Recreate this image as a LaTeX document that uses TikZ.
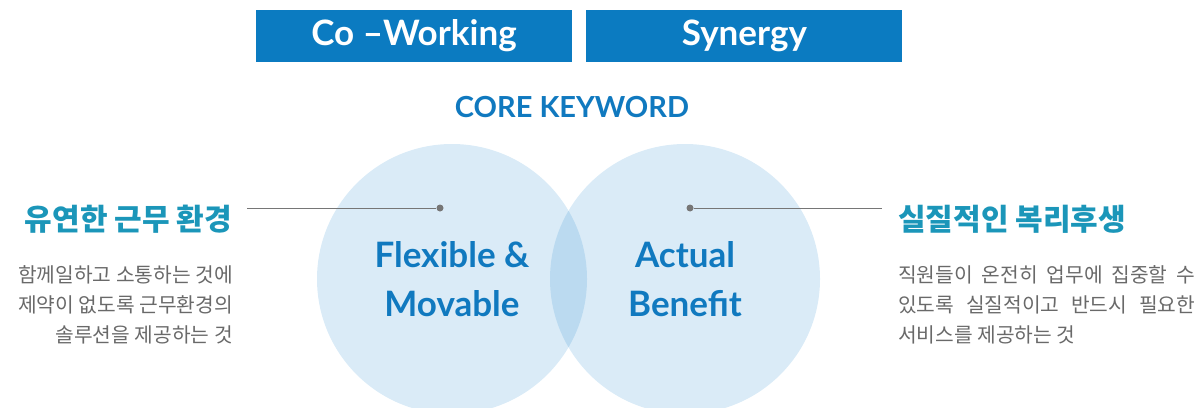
\documentclass[tikz,border=0pt]{standalone}
\usepackage{fontspec}
\setmainfont{Lato}
\newfontfamily\kr{Noto Sans CJK KR}
\usetikzlibrary{positioning}
\definecolor{boxblue}{RGB}{11,123,193}
\definecolor{keyblue}{RGB}{16,121,191}
\definecolor{headteal}{RGB}{27,150,185}
\definecolor{vennblue}{RGB}{24,130,205}
\definecolor{bodygray}{RGB}{105,105,105}
\definecolor{linegray}{RGB}{118,118,118}

\begin{document}
\begin{tikzpicture}[
        x = 1pt,
        y = -1pt,
        box/.style = {
            fill=boxblue,
            text=white,
            minimum width = 316pt,
            minimum height = 52pt,
            inner sep = 0pt,
            font=\bfseries\fontsize{35}{35}\selectfont
        },
        venn/.style = {
            circle,
            fill=vennblue,
            fill opacity=0.16,
            minimum size = 270pt,
            inner sep = 0pt
        },
        key/.style = {
            text=keyblue,
            align=center,
            font=\bfseries\fontsize{35}{49}\selectfont
        },
        head/.style = {
            text=headteal,
            inner sep = 0pt,
            font=\kr\bfseries\fontsize{30}{30}\selectfont
        },
        body/.style = {
            text=bodygray,
            inner sep = 0pt,
            font=\kr\fontsize{20.3}{30}\selectfont
        },
        dot/.style = {
            circle,
            fill=linegray,
            minimum size = 7pt,
            inner sep = 0pt
        },
        node distance = {14pt}
    ]
    \useasboundingbox (0,0) rectangle (1198,407);
    \node[box] (cowork) at (414,36) {Co –Working};
    \node[box, right=14pt of cowork] (synergy) {Synergy};
    \node[text=keyblue, font=\bfseries\fontsize{29}{29}\selectfont] (core) at (572,107) {CORE KEYWORD};
    
    \node[venn] (flex) at (452,279) {};
    \node[venn] (benefit) at (685,279) {};
    \node[key] (flextext) at (452,279) {Flexible \&\\Movable};
    \node[key] (benefittext) at (685,279) {Actual\\Benefit};
    
    \node[dot] (ldot) at (440,208) {};
    \node[dot] (rdot) at (690,208) {};
    \coordinate (lend) at (247,208);
    \coordinate (rend) at (882,208);
    \node[head, anchor=east] (lhead) at (232,219) {유연한 근무 환경};
    \node[head, anchor=west] (rhead) at (898,219) {실질적인 복리후생};
    \node[body, anchor=north east, align=right] (ltext) at (233,265) {함께일하고 소통하는 것에\\제약이 없도록 근무환경의\\솔루션을 제공하는 것};
    \node[body, anchor=north west, align=left] (rtext) at (898,265) {\makebox[297pt][s]{직원들이 온전히 업무에 집중할 수}\\\makebox[297pt][s]{있도록 실질적이고 반드시 필요한}\\서비스를 제공하는 것};
    
    \draw[line width = 1pt, linegray] (lend) -- (ldot);
    \draw[line width = 1pt, linegray] (rdot) -- (rend);
\end{tikzpicture}
\end{document}
